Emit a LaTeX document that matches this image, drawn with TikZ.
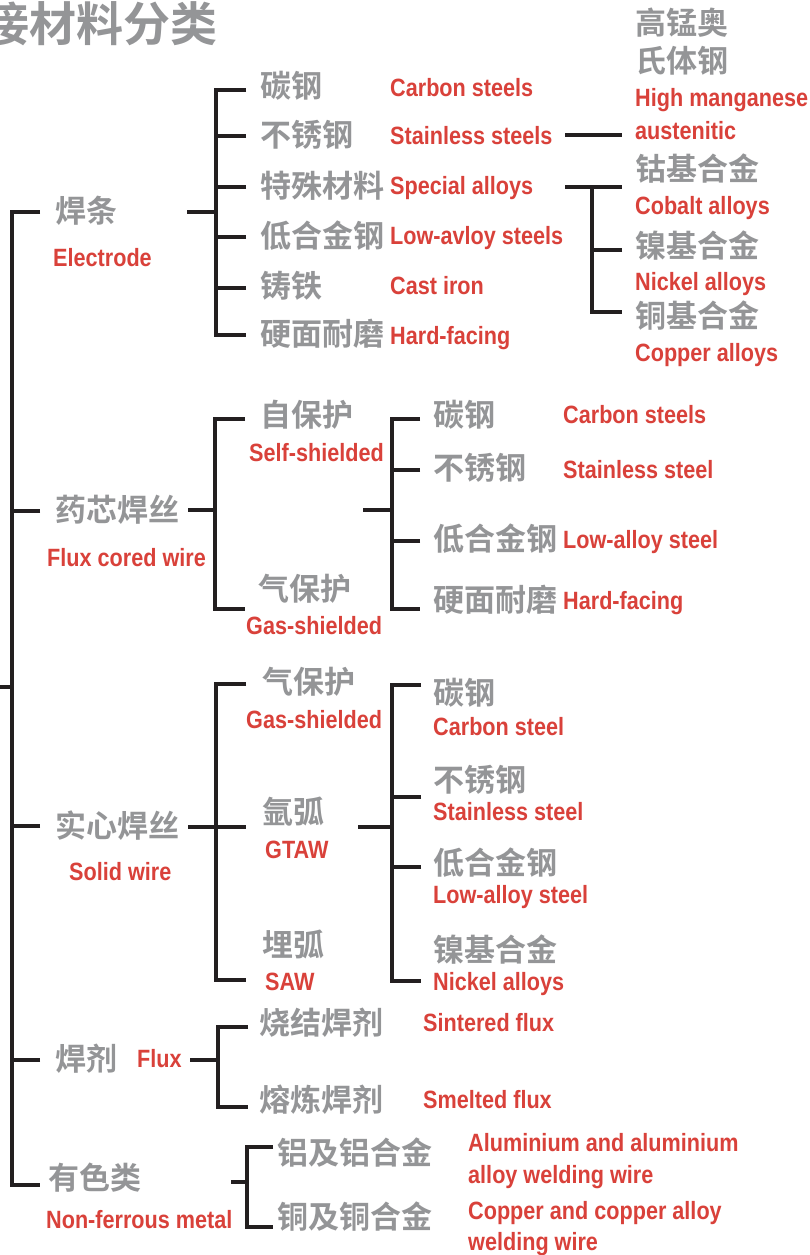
\documentclass[tikz,border=0pt]{standalone}
\usepackage{fontspec}
\setmainfont{Liberation Sans}
\newfontfamily\cjkf{Noto Sans CJK SC}[BoldFont={Noto Sans CJK SC Bold}]
\newfontfamily\redf{Liberation Sans}[FakeStretch=0.865]
\definecolor{ggray}{RGB}{148,149,151}
\definecolor{rred}{RGB}{217,65,58}
\definecolor{lline}{RGB}{35,31,32}
\tikzset{
  zh/.style={anchor=west, inner sep=0pt, text=ggray,
    font=\cjkf\bfseries\fontsize{31}{31}\selectfont, text height=27.3pt, text depth=3.7pt},
  en/.style={anchor=west, inner sep=0pt, text=rred,
    font=\redf\bfseries\fontsize{25}{25}\selectfont, text height=17.9pt, text depth=0pt},
  ttl/.style={anchor=west, inner sep=0pt, text=ggray,
    font=\cjkf\bfseries\fontsize{47}{47}\selectfont, text height=41.4pt, text depth=5.6pt},
  br/.style={draw=lline, line width=3.6pt},
}
\begin{document}
\begin{tikzpicture}[x=1pt, y=-1pt]
\fill[white] (0,0) rectangle (809,1255);
\useasboundingbox (0,0) rectangle (809,1255);

% title (cut at the left edge)
\node[ttl] (title) at (-18,24) {接材料分类};

% ---------- connectors ----------
% trunk
\coordinate (A0) at (0,687);   \coordinate (A1) at (12,687);
\coordinate (Atop) at (12,212); \coordinate (Abot) at (12,1185);
\coordinate (Ae) at (40,212);  \coordinate (Af) at (40,511);
\coordinate (As) at (40,826);  \coordinate (Ax) at (40,1060);
\coordinate (An) at (40,1185);
\draw[br] (A0) -- (A1);
\draw[br] (Ae) -- (Atop) -- (Abot) -- (An);
\draw[br] (Af) -- (Af -| Atop);
\draw[br] (As) -- (As -| Atop);
\draw[br] (Ax) -- (Ax -| Atop);

% electrode group
\coordinate (B0) at (187,212); \coordinate (Bj) at (216,212);
\coordinate (Btop) at (216,90); \coordinate (Bbot) at (216,335);
\coordinate (B1) at (246,90);  \coordinate (B2) at (246,136);
\coordinate (B3) at (246,187); \coordinate (B4) at (246,237);
\coordinate (B5) at (246,288); \coordinate (B6) at (246,335);
\draw[br] (B0) -- (Bj);
\draw[br] (B1) -- (Btop) -- (Bbot) -- (B6);
\foreach \k in {2,...,5} \draw[br] (B\k) -- (B\k -| Btop);

% stainless -> high manganese
\coordinate (C0) at (565,135); \coordinate (C1) at (622,135);
\draw[br] (C0) -- (C1);

% special alloys
\coordinate (D0) at (565,187); \coordinate (D1) at (622,187);
\coordinate (Dj) at (592,187); \coordinate (Dbot) at (592,312);
\coordinate (D2) at (622,250); \coordinate (D3) at (622,312);
\draw[br] (D0) -- (D1);
\draw[br] (Dj) -- (Dbot) -- (D3);
\draw[br] (D2) -- (D2 -| Dj);

% flux cored wire
\coordinate (E0) at (188,510); \coordinate (Ej) at (215,510);
\coordinate (Etop) at (215,419); \coordinate (Ebot) at (215,609);
\coordinate (E1) at (245,419); \coordinate (E2) at (245,609);
\draw[br] (E0) -- (Ej);
\draw[br] (E1) -- (Etop) -- (Ebot) -- (E2);

\coordinate (F0) at (363,510); \coordinate (Fj) at (392,510);
\coordinate (Ftop) at (392,419); \coordinate (Fbot) at (392,609);
\coordinate (F1) at (420,419); \coordinate (F2) at (420,470);
\coordinate (F3) at (420,541); \coordinate (F4) at (420,609);
\draw[br] (F0) -- (Fj);
\draw[br] (F1) -- (Ftop) -- (Fbot) -- (F4);
\draw[br] (F2) -- (F2 -| Ftop);
\draw[br] (F3) -- (F3 -| Ftop);

% solid wire
\coordinate (G0) at (188,827); \coordinate (G2) at (246,827);
\coordinate (Gtop) at (216,684); \coordinate (Gbot) at (216,980);
\coordinate (G1) at (246,684); \coordinate (G3) at (246,980);
\draw[br] (G0) -- (G2);
\draw[br] (G1) -- (Gtop) -- (Gbot) -- (G3);

\coordinate (H0) at (358,827); \coordinate (Hj) at (392,827);
\coordinate (Htop) at (392,685); \coordinate (Hbot) at (392,981);
\coordinate (H1) at (421,685); \coordinate (H2) at (421,797);
\coordinate (H3) at (421,867); \coordinate (H4) at (421,981);
\draw[br] (H0) -- (Hj);
\draw[br] (H1) -- (Htop) -- (Hbot) -- (H4);
\draw[br] (H2) -- (H2 -| Htop);
\draw[br] (H3) -- (H3 -| Htop);

% flux
\coordinate (I0) at (190,1060); \coordinate (Ij) at (218,1060);
\coordinate (Itop) at (218,1027); \coordinate (Ibot) at (218,1107);
\coordinate (I1) at (248,1027); \coordinate (I2) at (248,1107);
\draw[br] (I0) -- (Ij);
\draw[br] (I1) -- (Itop) -- (Ibot) -- (I2);

% non-ferrous
\coordinate (J0) at (231,1182); \coordinate (Jj) at (247,1182);
\coordinate (Jtop) at (247,1147); \coordinate (Jbot) at (247,1227);
\coordinate (J1) at (273,1147); \coordinate (J2) at (273,1227);
\draw[br] (J0) -- (Jj);
\draw[br] (J1) -- (Jtop) -- (Jbot) -- (J2);

% ---------- labels ----------
\node[zh] (hantiao) at (55,211) {焊条};
\node[en] (electrode) at (53,258) {Electrode};
\node[zh] (yaoxin) at (55,510) {药芯焊丝};
\node[en] (fcw) at (47,558) {Flux cored wire};
\node[zh] (shixin) at (55,826) {实心焊丝};
\node[en] (sw) at (69,872) {Solid wire};
\node[zh] (hanji) at (55,1059) {焊剂};
\node[en] (flux) at (137,1059) {Flux};
\node[zh] (youse) at (48,1178) {有色类};
\node[en] (nfm) at (46,1220) {Non-ferrous metal};

% electrode children
\node[zh] (b1) at (260,86) {碳钢};
\node[zh] (b2) at (260,135) {不锈钢};
\node[zh] (b3) at (260,186) {特殊材料};
\node[zh] (b4) at (260,236) {低合金钢};
\node[zh] (b5) at (260,286) {铸铁};
\node[zh] (b6) at (260,334) {硬面耐磨};
\node[en] (b1e) at (390,88) {Carbon steels};
\node[en] (b2e) at (390,136) {Stainless steels};
\node[en] (b3e) at (390,186) {Special alloys};
\node[en] (b4e) at (390,236) {Low-avloy steels};
\node[en] (b5e) at (390,286) {Cast iron};
\node[en] (b6e) at (390,336) {Hard-facing};

% right column
\node[zh] (c1) at (635,23) {高锰奥};
\node[zh] (c2) at (635,61) {氏体钢};
\node[en] (c1e) at (635,98) {High manganese};
\node[en] (c2e) at (635,131) {austenitic};
\node[zh] (d1) at (635,169) {钴基合金};
\node[en] (d1e) at (635,206) {Cobalt alloys};
\node[zh] (d2) at (635,246) {镍基合金};
\node[en] (d2e) at (635,282) {Nickel alloys};
\node[zh] (d3) at (635,316) {铜基合金};
\node[en] (d3e) at (635,353) {Copper alloys};

% flux cored wire children
\node[zh] (e1) at (260,415) {自保护};
\node[en] (e1e) at (249,453) {Self-shielded};
\node[zh] (e2) at (258,589) {气保护};
\node[en] (e2e) at (246,626) {Gas-shielded};
\node[zh] (f1) at (433,415) {碳钢};
\node[zh] (f2) at (433,468) {不锈钢};
\node[zh] (f3) at (433,539) {低合金钢};
\node[zh] (f4) at (433,600) {硬面耐磨};
\node[en] (f1e) at (563,415) {Carbon steels};
\node[en] (f2e) at (563,470) {Stainless steel};
\node[en] (f3e) at (563,540) {Low-alloy steel};
\node[en] (f4e) at (563,601) {Hard-facing};

% solid wire children
\node[zh] (g1) at (262,682) {气保护};
\node[en] (g1e) at (246,720) {Gas-shielded};
\node[zh] (g2) at (262,812) {氩弧};
\node[en] (g2e) at (265,850) {GTAW};
\node[zh] (g3) at (262,945) {埋弧};
\node[en] (g3e) at (265,982) {SAW};
\node[zh] (h1) at (433,693) {碳钢};
\node[en] (h1e) at (433,727) {Carbon steel};
\node[zh] (h2) at (433,780) {不锈钢};
\node[en] (h2e) at (433,812) {Stainless steel};
\node[zh] (h3) at (433,863) {低合金钢};
\node[en] (h3e) at (433,895) {Low-alloy steel};
\node[zh] (h4) at (433,950) {镍基合金};
\node[en] (h4e) at (433,982) {Nickel alloys};

% flux children
\node[zh] (i1) at (259,1023) {烧结焊剂};
\node[en] (i1e) at (423,1023) {Sintered flux};
\node[zh] (i2) at (259,1100) {熔炼焊剂};
\node[en] (i2e) at (423,1100) {Smelted flux};

% non-ferrous children
\node[zh] (j1) at (277,1153) {铝及铝合金};
\node[zh] (j2) at (277,1217) {铜及铜合金};
\node[en] (j1e) at (468,1143) {Aluminium and aluminium};
\node[en] (j1f) at (468,1175) {alloy welding wire};
\node[en] (j2e) at (468,1211) {Copper and copper alloy};
\node[en] (j2f) at (468,1242) {welding wire};
\end{tikzpicture}
\end{document}
